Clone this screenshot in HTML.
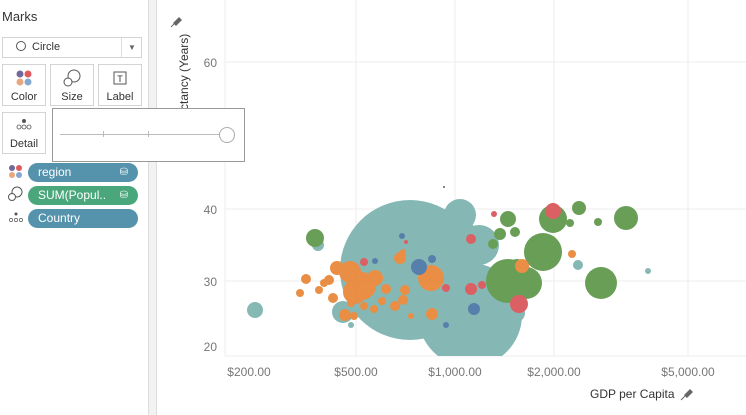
<!DOCTYPE html>
<html><head><style>
body{margin:0;width:746px;height:415px;overflow:hidden;background:#fff;font-family:"Liberation Sans",sans-serif;position:relative}
.ab{position:absolute}
.card{position:absolute;border:1px solid #d4d4d4;background:#fff;font-size:11px;color:#333;text-align:center}
.pill{position:absolute;left:28px;width:110px;height:19px;border-radius:10px;color:#fff;font-size:12px;line-height:19px;padding-left:10px;box-sizing:border-box}
</style></head><body>
<div class="ab" style="left:0;top:0;width:148px;height:415px;background:#fff;border-right:1px solid #ddd"></div>
<div class="ab" style="left:149px;top:0;width:7px;height:415px;background:#f2f2f2;border-right:1px solid #ddd"></div>
<div class="ab" style="left:2px;top:9px;font-size:13px;color:#333">Marks</div>
<div class="card" style="left:2px;top:37px;width:138px;height:19px;text-align:left;line-height:19px;font-size:11px"><span style="display:inline-block;width:8px;height:8px;border:1px solid #555;border-radius:50%;margin:0 6px 0 13px;vertical-align:-1px"></span>Circle<span style="position:absolute;left:118px;top:0;width:20px;border-left:1px solid #ddd;text-align:center;font-size:8px;color:#666">▼</span></div>
<div class="card" style="left:2px;top:64px;width:42px;height:40px"><svg width="20" height="18" style="margin-top:4px"><circle cx="6" cy="5" r="3.5" fill="#6f6a9b"/><circle cx="14" cy="5" r="3.5" fill="#e0595f"/><circle cx="6" cy="13" r="3.5" fill="#e9a77b"/><circle cx="14" cy="13" r="3.5" fill="#84a9d0"/></svg><div style="margin-top:1px">Color</div></div>
<div class="card" style="left:50px;top:64px;width:42px;height:40px"><svg width="20" height="18" style="margin-top:4px"><circle cx="12" cy="7" r="6" fill="none" stroke="#555"/><circle cx="6" cy="13" r="4" fill="#fff" stroke="#555"/></svg><div style="margin-top:1px">Size</div></div>
<div class="card" style="left:98px;top:64px;width:42px;height:40px"><svg width="20" height="18" style="margin-top:4px"><rect x="4" y="3" width="12" height="12" fill="none" stroke="#555"/><text x="10" y="13" font-size="9" text-anchor="middle" fill="#333">T</text></svg><div style="margin-top:1px">Label</div></div>
<div class="card" style="left:2px;top:112px;width:42px;height:40px"><svg width="20" height="16" style="margin-top:3px"><circle cx="10" cy="5" r="2" fill="#555"/><circle cx="5" cy="11" r="2" fill="none" stroke="#555" stroke-width=".8"/><circle cx="10" cy="11" r="2" fill="none" stroke="#555" stroke-width=".8"/><circle cx="15" cy="11" r="2" fill="none" stroke="#555" stroke-width=".8"/></svg><div style="margin-top:3px">Detail</div></div>
<svg class="ab" style="left:7px;top:164px" width="18" height="64"><circle cx="5" cy="4" r="3" fill="#6f6a9b"/><circle cx="12" cy="4" r="3" fill="#e0595f"/><circle cx="5" cy="11" r="3" fill="#e9a77b"/><circle cx="12" cy="11" r="3" fill="#84a9d0"/>
<circle cx="10" cy="28" r="5" fill="none" stroke="#555"/><circle cx="5" cy="33" r="3.5" fill="#fff" stroke="#555"/>
<circle cx="9" cy="50" r="1.5" fill="#555"/><circle cx="4" cy="56" r="1.6" fill="none" stroke="#555" stroke-width=".7"/><circle cx="9" cy="56" r="1.6" fill="none" stroke="#555" stroke-width=".7"/><circle cx="14" cy="56" r="1.6" fill="none" stroke="#555" stroke-width=".7"/></svg>
<div class="pill" style="top:163px;background:#5592ab">region<span style="position:absolute;right:10px;font-size:10px">⛁</span></div>
<div class="pill" style="top:186px;background:#4aa77b">SUM(Popul..<span style="position:absolute;right:10px;font-size:10px">⛁</span></div>
<div class="pill" style="top:209px;background:#5592ab">Country</div>
<svg class="ab" style="left:157px;top:0" width="589" height="415">
<defs><clipPath id="c"><rect x="68" y="0" width="521" height="356"/></clipPath></defs>
<g stroke="#ececec" stroke-width="1">
<line x1="68" y1="62" x2="589" y2="62"/><line x1="68" y1="209" x2="589" y2="209"/><line x1="68" y1="281" x2="589" y2="281"/>
<line x1="68" y1="0" x2="68" y2="356"/><line x1="199" y1="0" x2="199" y2="356"/><line x1="298" y1="0" x2="298" y2="356"/><line x1="397" y1="0" x2="397" y2="356"/><line x1="531" y1="0" x2="531" y2="356"/>
<line x1="68" y1="356" x2="589" y2="356"/></g>
<g font-size="12" fill="#777" text-anchor="end"><text x="60" y="67">60</text><text x="60" y="214">40</text><text x="60" y="286">30</text><text x="60" y="351">20</text></g>
<g font-size="12" fill="#777" text-anchor="middle"><text x="92" y="376">$200.00</text><text x="199" y="376">$500.00</text><text x="298" y="376">$1,000.00</text><text x="397" y="376">$2,000.00</text><text x="531" y="376">$5,000.00</text></g>
<text x="433" y="398" font-size="12" fill="#333">GDP per Capita</text>
<g fill="#666"><path d="M527 395 l6 -6 l3 3 l-6 6 z M524 400 l5 -5"/><path d="M16 23 l6 -6 l3 3 l-6 6 z"/></g>
<line x1="524" y1="400" x2="529" y2="395" stroke="#666"/><line x1="14" y1="27" x2="18" y2="23" stroke="#666"/>
<text transform="translate(31,160) rotate(-90)" font-size="12" fill="#333">Life Expectancy (Years)</text>
<g opacity="0.95" clip-path="url(#c)">
<circle cx="253" cy="270" r="70" fill="#7fb5b0"/><circle cx="313" cy="315" r="52" fill="#7fb5b0"/><circle cx="300" cy="240" r="22" fill="#7fb5b0"/><circle cx="322" cy="245" r="20" fill="#7fb5b0"/><circle cx="303" cy="215" r="16" fill="#7fb5b0"/>
<circle cx="98" cy="310" r="8" fill="#7fb5b0"/><circle cx="186" cy="312" r="11" fill="#7fb5b0"/><circle cx="359" cy="313" r="9" fill="#7fb5b0"/><circle cx="421" cy="265" r="5" fill="#7fb5b0"/><circle cx="491" cy="271" r="3" fill="#7fb5b0"/><circle cx="161" cy="245" r="6" fill="#7fb5b0"/><circle cx="194" cy="325" r="3" fill="#7fb5b0"/><circle cx="213" cy="322" r="3" fill="#7fb5b0"/>
<g fill="#62994f"><circle cx="158" cy="238" r="9"/><circle cx="351" cy="281" r="22"/><circle cx="369" cy="283" r="16"/><circle cx="360" cy="268" r="9"/><circle cx="386" cy="252" r="19"/><circle cx="396" cy="219" r="14"/><circle cx="422" cy="208" r="7"/><circle cx="444" cy="283" r="16"/><circle cx="469" cy="218" r="12"/><circle cx="351" cy="219" r="8"/><circle cx="343" cy="234" r="6"/><circle cx="336" cy="244" r="5"/><circle cx="358" cy="232" r="5"/><circle cx="413" cy="223" r="4"/><circle cx="441" cy="222" r="4"/></g>
<g fill="#e8893a"><circle cx="193" cy="272" r="11"/><circle cx="205" cy="286" r="14"/><circle cx="198" cy="292" r="12"/><circle cx="180" cy="268" r="7"/><circle cx="218" cy="278" r="8"/><circle cx="172" cy="280" r="5"/><circle cx="167" cy="283" r="4"/><circle cx="149" cy="279" r="5"/><circle cx="143" cy="293" r="4"/><circle cx="176" cy="298" r="5"/><circle cx="162" cy="290" r="4"/><circle cx="274" cy="278" r="13"/><circle cx="243" cy="258" r="6"/><circle cx="248" cy="290" r="5"/><circle cx="229" cy="289" r="5"/><circle cx="246" cy="300" r="5"/><circle cx="225" cy="301" r="4"/><circle cx="238" cy="306" r="5"/><circle cx="217" cy="309" r="4"/><circle cx="188" cy="315" r="6"/><circle cx="197" cy="316" r="4"/><circle cx="275" cy="314" r="6"/><circle cx="254" cy="316" r="3"/><circle cx="246" cy="252" r="3"/><circle cx="365" cy="266" r="7"/><circle cx="415" cy="254" r="4"/><circle cx="194" cy="303" r="4"/><circle cx="207" cy="306" r="4"/></g>
<g fill="#d9585c"><circle cx="396" cy="211" r="8"/><circle cx="362" cy="304" r="9"/><circle cx="314" cy="289" r="6"/><circle cx="314" cy="239" r="5"/><circle cx="325" cy="285" r="4"/><circle cx="289" cy="288" r="4"/><circle cx="337" cy="214" r="3"/><circle cx="207" cy="262" r="4"/><circle cx="249" cy="242" r="2"/></g>
<g fill="#4e79a7"><circle cx="262" cy="267" r="8"/><circle cx="317" cy="309" r="6"/><circle cx="275" cy="259" r="4"/><circle cx="245" cy="236" r="3"/><circle cx="218" cy="261" r="3"/><circle cx="289" cy="325" r="3"/></g>
<circle cx="287" cy="187" r="1" fill="#555"/>
</g>
</svg>
<div class="ab" style="left:52px;top:108px;width:191px;height:52px;background:#fff;border:1px solid #999"></div>
<div class="ab" style="left:60px;top:134px;width:166px;height:1px;background:#bbb"></div>
<div class="ab" style="left:103px;top:131px;width:1px;height:6px;background:#bbb"></div>
<div class="ab" style="left:148px;top:131px;width:1px;height:6px;background:#bbb"></div>
<div class="ab" style="left:219px;top:127px;width:14px;height:14px;border:1px solid #aaa;border-radius:50%;background:#fff"></div>
</body></html>
